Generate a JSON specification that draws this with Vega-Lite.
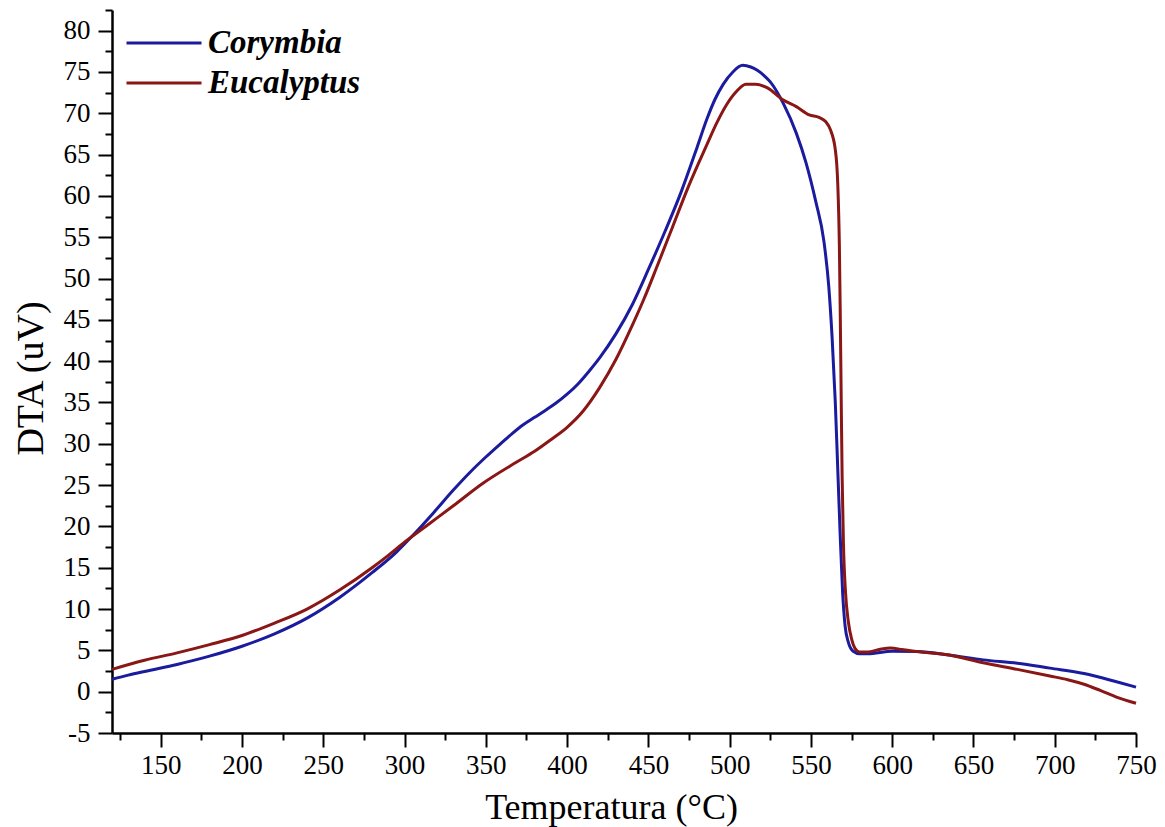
{
  "$schema": "https://vega.github.io/schema/vega-lite/v6.json",
  "autosize": "none",
  "width": 1024,
  "height": 723,
  "padding": {"left": 112, "top": 10, "right": 29, "bottom": 94},
  "background": "white",
  "config": {
    "view": {"stroke": null},
    "font": "Liberation Serif",
    "axis": {"labelFont": "Liberation Serif", "titleFont": "Liberation Serif"},
    "legend": {"labelFont": "Liberation Serif"}
  },
  "data": {
    "values": [
      {"species": "Corymbia", "temp": 120, "dta": 1.5},
      {"species": "Corymbia", "temp": 130, "dta": 2.0},
      {"species": "Corymbia", "temp": 140, "dta": 2.45},
      {"species": "Corymbia", "temp": 160, "dta": 3.3},
      {"species": "Corymbia", "temp": 180, "dta": 4.3},
      {"species": "Corymbia", "temp": 200, "dta": 5.5},
      {"species": "Corymbia", "temp": 220, "dta": 7.0},
      {"species": "Corymbia", "temp": 240, "dta": 8.9},
      {"species": "Corymbia", "temp": 260, "dta": 11.4},
      {"species": "Corymbia", "temp": 280, "dta": 14.4},
      {"species": "Corymbia", "temp": 295, "dta": 16.9},
      {"species": "Corymbia", "temp": 305, "dta": 18.9},
      {"species": "Corymbia", "temp": 318, "dta": 21.7},
      {"species": "Corymbia", "temp": 330, "dta": 24.4},
      {"species": "Corymbia", "temp": 340, "dta": 26.5},
      {"species": "Corymbia", "temp": 350, "dta": 28.4},
      {"species": "Corymbia", "temp": 359, "dta": 30.0},
      {"species": "Corymbia", "temp": 366, "dta": 31.2},
      {"species": "Corymbia", "temp": 373, "dta": 32.3},
      {"species": "Corymbia", "temp": 380, "dta": 33.2},
      {"species": "Corymbia", "temp": 387, "dta": 34.1},
      {"species": "Corymbia", "temp": 393, "dta": 34.9},
      {"species": "Corymbia", "temp": 400, "dta": 36.0},
      {"species": "Corymbia", "temp": 407, "dta": 37.3},
      {"species": "Corymbia", "temp": 414, "dta": 38.9},
      {"species": "Corymbia", "temp": 420, "dta": 40.4},
      {"species": "Corymbia", "temp": 430, "dta": 43.3},
      {"species": "Corymbia", "temp": 440, "dta": 46.8},
      {"species": "Corymbia", "temp": 450, "dta": 51.1},
      {"species": "Corymbia", "temp": 460, "dta": 55.6},
      {"species": "Corymbia", "temp": 470, "dta": 60.4},
      {"species": "Corymbia", "temp": 480, "dta": 65.9},
      {"species": "Corymbia", "temp": 486, "dta": 69.3},
      {"species": "Corymbia", "temp": 491, "dta": 71.7},
      {"species": "Corymbia", "temp": 496, "dta": 73.5},
      {"species": "Corymbia", "temp": 502, "dta": 75.0},
      {"species": "Corymbia", "temp": 508, "dta": 75.8},
      {"species": "Corymbia", "temp": 513, "dta": 75.6},
      {"species": "Corymbia", "temp": 517, "dta": 75.2},
      {"species": "Corymbia", "temp": 521, "dta": 74.6},
      {"species": "Corymbia", "temp": 525, "dta": 73.8},
      {"species": "Corymbia", "temp": 533, "dta": 71.2},
      {"species": "Corymbia", "temp": 541, "dta": 67.6},
      {"species": "Corymbia", "temp": 547, "dta": 64.0},
      {"species": "Corymbia", "temp": 553, "dta": 59.3},
      {"species": "Corymbia", "temp": 558, "dta": 54.5},
      {"species": "Corymbia", "temp": 561, "dta": 49.0},
      {"species": "Corymbia", "temp": 563, "dta": 43.0},
      {"species": "Corymbia", "temp": 565, "dta": 35.0},
      {"species": "Corymbia", "temp": 566.5, "dta": 27.0},
      {"species": "Corymbia", "temp": 568, "dta": 19.0},
      {"species": "Corymbia", "temp": 569.5, "dta": 12.0},
      {"species": "Corymbia", "temp": 571, "dta": 8.0},
      {"species": "Corymbia", "temp": 573, "dta": 6.0},
      {"species": "Corymbia", "temp": 576, "dta": 4.9},
      {"species": "Corymbia", "temp": 580, "dta": 4.6},
      {"species": "Corymbia", "temp": 585, "dta": 4.6},
      {"species": "Corymbia", "temp": 600, "dta": 4.9},
      {"species": "Corymbia", "temp": 615, "dta": 4.85},
      {"species": "Corymbia", "temp": 635, "dta": 4.45},
      {"species": "Corymbia", "temp": 656, "dta": 3.85},
      {"species": "Corymbia", "temp": 677, "dta": 3.45},
      {"species": "Corymbia", "temp": 697, "dta": 2.85},
      {"species": "Corymbia", "temp": 718, "dta": 2.2},
      {"species": "Corymbia", "temp": 738, "dta": 1.2},
      {"species": "Corymbia", "temp": 750, "dta": 0.55},

      {"species": "Eucalyptus", "temp": 120, "dta": 2.7},
      {"species": "Eucalyptus", "temp": 140, "dta": 3.8},
      {"species": "Eucalyptus", "temp": 160, "dta": 4.7},
      {"species": "Eucalyptus", "temp": 180, "dta": 5.7},
      {"species": "Eucalyptus", "temp": 200, "dta": 6.8},
      {"species": "Eucalyptus", "temp": 220, "dta": 8.3},
      {"species": "Eucalyptus", "temp": 240, "dta": 10.0},
      {"species": "Eucalyptus", "temp": 260, "dta": 12.3},
      {"species": "Eucalyptus", "temp": 280, "dta": 15.0},
      {"species": "Eucalyptus", "temp": 290, "dta": 16.5},
      {"species": "Eucalyptus", "temp": 300, "dta": 18.1},
      {"species": "Eucalyptus", "temp": 315, "dta": 20.3},
      {"species": "Eucalyptus", "temp": 330, "dta": 22.5},
      {"species": "Eucalyptus", "temp": 348, "dta": 25.2},
      {"species": "Eucalyptus", "temp": 369, "dta": 27.8},
      {"species": "Eucalyptus", "temp": 380, "dta": 29.1},
      {"species": "Eucalyptus", "temp": 390, "dta": 30.5},
      {"species": "Eucalyptus", "temp": 400, "dta": 32.0},
      {"species": "Eucalyptus", "temp": 410, "dta": 34.0},
      {"species": "Eucalyptus", "temp": 420, "dta": 36.8},
      {"species": "Eucalyptus", "temp": 430, "dta": 40.2},
      {"species": "Eucalyptus", "temp": 440, "dta": 44.3},
      {"species": "Eucalyptus", "temp": 447, "dta": 47.4},
      {"species": "Eucalyptus", "temp": 455, "dta": 51.3},
      {"species": "Eucalyptus", "temp": 465, "dta": 56.3},
      {"species": "Eucalyptus", "temp": 475, "dta": 61.3},
      {"species": "Eucalyptus", "temp": 486, "dta": 66.2},
      {"species": "Eucalyptus", "temp": 492, "dta": 68.8},
      {"species": "Eucalyptus", "temp": 498, "dta": 71.0},
      {"species": "Eucalyptus", "temp": 504, "dta": 72.6},
      {"species": "Eucalyptus", "temp": 510, "dta": 73.5},
      {"species": "Eucalyptus", "temp": 516, "dta": 73.5},
      {"species": "Eucalyptus", "temp": 523, "dta": 73.1},
      {"species": "Eucalyptus", "temp": 533, "dta": 71.6},
      {"species": "Eucalyptus", "temp": 541, "dta": 70.8},
      {"species": "Eucalyptus", "temp": 549, "dta": 69.8},
      {"species": "Eucalyptus", "temp": 555, "dta": 69.5},
      {"species": "Eucalyptus", "temp": 559, "dta": 69.0},
      {"species": "Eucalyptus", "temp": 562, "dta": 68.0},
      {"species": "Eucalyptus", "temp": 565, "dta": 65.6},
      {"species": "Eucalyptus", "temp": 566.5, "dta": 61.5},
      {"species": "Eucalyptus", "temp": 567.5, "dta": 54.0},
      {"species": "Eucalyptus", "temp": 568, "dta": 46.6},
      {"species": "Eucalyptus", "temp": 568.6, "dta": 36.0},
      {"species": "Eucalyptus", "temp": 569.2, "dta": 26.0},
      {"species": "Eucalyptus", "temp": 570, "dta": 18.0},
      {"species": "Eucalyptus", "temp": 571.3, "dta": 12.0},
      {"species": "Eucalyptus", "temp": 573, "dta": 8.5},
      {"species": "Eucalyptus", "temp": 575, "dta": 6.4},
      {"species": "Eucalyptus", "temp": 577, "dta": 5.3},
      {"species": "Eucalyptus", "temp": 580, "dta": 4.8},
      {"species": "Eucalyptus", "temp": 585, "dta": 4.8},
      {"species": "Eucalyptus", "temp": 592, "dta": 5.1},
      {"species": "Eucalyptus", "temp": 599, "dta": 5.3},
      {"species": "Eucalyptus", "temp": 606, "dta": 5.1},
      {"species": "Eucalyptus", "temp": 615, "dta": 4.85},
      {"species": "Eucalyptus", "temp": 635, "dta": 4.45},
      {"species": "Eucalyptus", "temp": 656, "dta": 3.5},
      {"species": "Eucalyptus", "temp": 677, "dta": 2.7},
      {"species": "Eucalyptus", "temp": 697, "dta": 1.9},
      {"species": "Eucalyptus", "temp": 708, "dta": 1.45},
      {"species": "Eucalyptus", "temp": 718, "dta": 0.9},
      {"species": "Eucalyptus", "temp": 728, "dta": 0.15},
      {"species": "Eucalyptus", "temp": 738, "dta": -0.65},
      {"species": "Eucalyptus", "temp": 750, "dta": -1.4}
    ]
  },
  "layer": [
    {
      "transform": [{"filter": "datum.species === 'Corymbia'"}],
      "mark": {"type": "line", "strokeWidth": 3, "interpolate": "monotone"},
      "encoding": {
        "x": {
          "field": "temp", "type": "quantitative",
          "scale": {"domain": [120, 750], "nice": false, "zero": false},
          "axis": {
            "orient": "bottom",
            "values": [150, 200, 250, 300, 350, 400, 450, 500, 550, 600, 650, 700, 750],
            "grid": false,
            "domainColor": "black", "domainWidth": 2.5,
            "tickColor": "black", "tickWidth": 2, "tickSize": 14,
            "labelFont": "Liberation Serif", "labelFontSize": 27, "labelColor": "black",
            "labelPadding": 5, "labelOverlap": false, "labelFlush": false, "labelBound": false,
            "title": "Temperatura (°C)",
            "titleFont": "Liberation Serif", "titleFontSize": 36, "titleFontWeight": "normal",
            "titleColor": "black", "titleBaseline": "alphabetic", "titleY": 85, "titleX": 499
          }
        },
        "y": {
          "field": "dta", "type": "quantitative",
          "scale": {"domain": [-5, 82.5], "nice": false, "zero": false},
          "axis": {
            "orient": "left",
            "values": [-5, 0, 5, 10, 15, 20, 25, 30, 35, 40, 45, 50, 55, 60, 65, 70, 75, 80],
            "labelExpr": "datum.value < 0 ? '-' + abs(datum.value) : '' + datum.value",
            "grid": false,
            "domainColor": "black", "domainWidth": 2.5,
            "tickColor": "black", "tickWidth": 2, "tickSize": 14,
            "labelFont": "Liberation Serif", "labelFontSize": 27, "labelColor": "black",
            "labelPadding": 8, "labelOverlap": false, "labelFlush": false, "labelBound": false,
            "title": "DTA (uV)",
            "titleFont": "Liberation Serif", "titleFontSize": 38, "titleFontWeight": "normal",
            "titleColor": "black", "titleAngle": 270, "titleBaseline": "alphabetic",
            "titleAlign": "center", "titleX": -70, "titleY": 368
          }
        },
        "color": {
          "field": "species", "type": "nominal",
          "scale": {"domain": ["Corymbia", "Eucalyptus"], "range": ["#1b1b9e", "#8a1616"]},
          "legend": {
            "orient": "none", "legendX": 13, "legendY": 13,
            "title": null, "padding": 0,
            "symbolType": "stroke", "symbolSize": 5625, "symbolStrokeWidth": 3,
            "labelFont": "Liberation Serif", "labelFontSize": 33,
            "labelFontStyle": "italic", "labelFontWeight": "bold", "labelColor": "black",
            "labelOffset": 5, "clipHeight": 40, "rowPadding": 0
          }
        }
      }
    },
    {
      "transform": [{"filter": "datum.species === 'Eucalyptus'"}],
      "mark": {"type": "line", "strokeWidth": 3, "interpolate": "monotone"},
      "encoding": {
        "x": {
          "field": "temp", "type": "quantitative",
          "axis": {
            "orient": "bottom",
            "values": [125, 175, 225, 275, 325, 375, 425, 475, 525, 575, 625, 675, 725],
            "grid": false, "domain": false, "labels": false, "title": null,
            "tickColor": "black", "tickWidth": 2, "tickSize": 7
          }
        },
        "y": {
          "field": "dta", "type": "quantitative",
          "axis": {
            "orient": "left",
            "values": [-2.5, 2.5, 7.5, 12.5, 17.5, 22.5, 27.5, 32.5, 37.5, 42.5, 47.5, 52.5, 57.5, 62.5, 67.5, 72.5, 77.5, 82.5],
            "grid": false, "domain": false, "labels": false, "title": null,
            "tickColor": "black", "tickWidth": 2, "tickSize": 7
          }
        },
        "color": {"field": "species", "type": "nominal"}
      }
    }
  ],
  "resolve": {"axis": {"x": "independent", "y": "independent"}}
}
